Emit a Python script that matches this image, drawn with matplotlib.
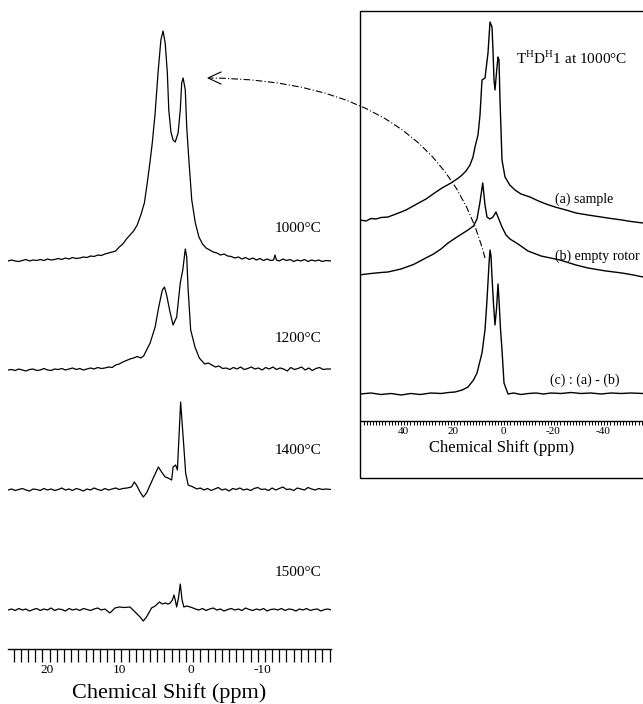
import matplotlib
matplotlib.use('Agg')
import matplotlib.pyplot as plt
import matplotlib.transforms as mtransforms
from matplotlib.ticker import MultipleLocator, FixedLocator
from matplotlib.patches import Rectangle, PathPatch
from matplotlib.path import Path
from matplotlib.lines import Line2D

plt.rcParams['font.family'] = ['Liberation Serif', 'DejaVu Serif']
plt.rcParams['mathtext.fontset'] = 'custom'
plt.rcParams['mathtext.rm'] = 'Liberation Serif'
plt.rcParams['axes.unicode_minus'] = False

# ---------------- data: left panel (ppm, intensity) ----------------
temps = ['1000°C', '1200°C', '1400°C', '1500°C']
left_ticks = [20, 10, 0, -10]

ppm_1000 = [24.8, 24.3, 23.8, 23.3, 22.8, 22.3, 21.8, 21.3, 20.8, 20.3,
            19.8, 19.3, 18.8, 18.3, 17.8, 17.3, 16.8, 16.3, 15.8, 15.3,
            14.8, 14.3, 13.8, 13.3, 12.8, 12.3, 11.8, 11.3, 10.8, 10.3,
            9.8, 9.3, 8.8, 8.3, 7.8, 7.3, 6.8, 6.3, 5.8,
            5.4, 5.0, 4.7, 4.3, 3.9, 3.5, 3.2, 2.9, 2.6, 2.4, 2.1, 1.8, 1.5,
            1.1, 0.8, 0.6, 0.4, 0.1, -0.1, -0.4, -0.8,
            -1.3, -1.8, -2.3, -2.8, -3.3, -3.8, -4.3, -4.8, -5.3, -5.8, -6.3,
            -6.8, -7.3, -7.8, -8.3, -8.8, -9.3, -9.8, -10.3, -10.8, -11.3, -11.8,
            -12.2, -12.4, -12.6, -13.0,
            -13.5, -14.0, -14.5, -15.0, -15.5, -16.0, -16.5, -17.0, -17.5,
            -18.0, -18.5, -19.0, -19.5, -20.2]
int_1000 = [0, 1, 0, -0.5, 0.5, 1.5, 0, 1, 0.5, 1.5,
            0.5, 2, 1, 1.5, 2.5, 1.5, 3, 2, 3.5, 2.5,
            3, 4, 3.5, 5, 4.5, 6, 5.5, 7, 8, 9,
            10, 14, 17, 22, 26, 30, 36, 46, 58,
            78, 100, 118, 148, 188, 221, 230, 218, 188, 151, 129, 121, 119,
            128, 151, 178, 183, 171, 134, 101, 61,
            38, 24, 17, 13, 11, 9, 8, 6, 7, 5, 4.5,
            3, 4, 2, 3.5, 1.5, 3, 1, 2.5, 0.5, 2, 0.5,
            1, 6, 1, 0,
            2, 0.5, 1.5, -0.5, 1, 0, 1.5, -0.5, 1,
            0, 1, -0.5, 0.5, 0]

ppm_1200 = [24.8, 24.3, 23.8, 23.3, 22.8, 22.3, 21.8, 21.3, 20.8, 20.3,
            19.8, 19.3, 18.8, 18.3, 17.8, 17.3, 16.8, 16.3, 15.8, 15.3,
            14.8, 14.3, 13.8, 13.3, 12.8, 12.3, 11.8, 11.3,
            10.8, 10.3, 9.8, 9.3, 8.8, 8.3, 7.8, 7.3, 6.8, 6.3,
            5.9, 5.7, 5.0, 4.3, 3.8, 3.3, 3.0, 2.7, 2.2, 1.8,
            1.3, 0.8, 0.45, 0.1, -0.1, -0.3, -0.65, -1.25, -1.85, -2.6,
            -3.1, -3.6, -4.1, -4.6, -5.1,
            -5.6, -6.1, -6.6, -7.1, -7.6, -8.1, -8.6, -9.1, -9.6, -10.1,
            -10.6, -11.1, -11.6, -12.1, -12.6, -13.1, -13.6, -14.1, -14.6, -15.1,
            -15.6, -16.1, -16.6, -17.1, -17.6, -18.1, -18.6, -19.1, -19.6, -20.2]
int_1200 = [0, 0.5, -0.5, 1, 0, -1, 0.5, 1, -0.5, 0,
            1.5, 0, -0.5, 1, 0.5, 1.5, 0, 1, 2, 0.5,
            1.5, 0, 1, 2, 1, 2.5, 1.5, 2,
            3, 2.5, 5, 6, 8, 9.5, 11, 12, 13.5, 12,
            14, 17, 27, 43, 63, 80, 83, 75, 57, 45,
            53, 87, 100, 121, 113, 80, 40, 23, 12, 6,
            7, 5, 3, 4, 1.5,
            2, 0.5, 2.5, 1, 3, 0.5, 1.5, 3, 1, 2,
            0, 2.5, 1, 3, 0.5, 2, 1, -1, 2.5, 0.5,
            1.5, 3, 0, 2, -0.5, 1.5, 2.5, 0.5, 1, 1]

ppm_1400 = [24.8, 24.3, 23.8, 23.3, 22.8, 22.3, 21.8, 21.3, 20.8, 20.3,
            19.8, 19.3, 18.8, 18.3, 17.8, 17.3, 16.8, 16.3, 15.8, 15.3,
            14.8, 14.3, 13.8, 13.3, 12.8, 12.3, 11.8, 11.3, 10.8, 10.3,
            9.8, 9.3, 8.8,
            8.2, 7.6, 7.2, 6.9, 6.4, 5.95, 5.5, 5.0, 4.5, 3.85, 3.4, 2.9,
            2.5, 2.0, 1.8, 1.45, 1.2, 1.0, 0.75, 0.5, 0.3, 0.05, -0.3, -1.0,
            -1.5, -2.0, -2.5, -3.0, -3.5, -4.0, -4.5, -5.0, -5.5, -6.0,
            -6.5, -7.0, -7.5, -8.0, -8.5, -9.0, -9.5, -10.0, -10.5, -11.0,
            -11.5, -12.0, -12.5, -13.0, -13.5, -14.0, -14.5, -15.0, -15.5, -16.0,
            -16.5, -17.0, -17.5, -18.0, -18.5, -19.0, -19.5, -20.2]
int_1400 = [0, 1, -0.5, 0.5, 1.5, 0, -1, 1, 0.5, -0.5,
            1.5, 0, 1, -0.5, 0.5, 2, 0, 1, -0.5, 1.5,
            0.5, -1, 1, 0, 2, 0.5, -0.5, 1.5, 0, 1,
            2, 0.5, 1.5,
            2, 3, 8, 5, -2, -7, -3, 5, 13, 23, 18, 13,
            12, 10, 23, 25, 20, 50, 88, 63, 43, 17, 5, 3,
            1, 2, 0, 1.5, -0.5, 1, 2.5, 0, 1, -1,
            1.5, 0.5, 2, 0, 1, -0.5, 1.5, 2.5, 0.5, 1,
            -0.5, 2, 0, 1.5, 3, 0.5, 1, -0.5, 2, 1,
            0, 2.5, 1, 0, 1.5, 0.5, 1, 0.5]

ppm_1500 = [24.8, 24.3, 23.8, 23.3, 22.8, 22.3, 21.8, 21.3, 20.8, 20.3,
            19.8, 19.3, 18.8, 18.3, 17.8, 17.3, 16.8, 16.3, 15.8, 15.3,
            14.8, 14.3, 13.8, 13.3, 12.8, 12.3, 11.8, 11.3,
            10.6, 9.9, 9.3, 8.6, 7.8, 7.1, 6.4, 5.95, 5.5, 4.8,
            4.3, 3.7, 3.3, 2.9, 2.5, 2.2, 1.9, 1.67, 1.5, 1.3,
            1.05, 0.8, 0.55, 0.3, -0.1, -0.8,
            -1.3, -1.8, -2.3, -2.8, -3.3, -3.8, -4.3, -4.8, -5.3, -5.8,
            -6.3, -6.8, -7.3, -7.8, -8.3, -8.8, -9.3, -9.8, -10.3, -10.8,
            -11.3, -11.8, -12.3, -12.8, -13.3, -13.8, -14.3, -14.8, -15.3, -15.8,
            -16.3, -16.8, -17.3, -17.8, -18.3, -18.8, -19.3, -19.8, -20.2]
int_1500 = [0, 1, -0.5, 1.5, 0, 1, -1, 0.5, 1.5, -0.5,
            1, 0, 2, -0.5, 1, 0.5, -1, 1.5, 0, 1,
            -0.5, 1.5, 0.5, -0.5, 1, 2, 0, 1,
            -3, 2, 3, 2.5, 3, -2, -7, -11, -7, 2,
            4, 8, 6, 7, 6, 7, 10, 15, 10, 3,
            12, 26, 10, 3, 4, 2.5,
            1, 0, 1.5, -0.5, 1, 2, 0, 1, -1, 0.5,
            1.5, 0, 1, -0.5, 2, 0.5, -0.5, 1, 0, 1.5,
            -1, 0.5, 1, 0, 1.5, -0.5, 1, 0.5, -1, 1,
            0, 1.5, -0.5, 0.5, 1, -1, 0.5, 1, 0]

# ---------------- data: right panel ----------------
right_ticks = [40, 20, 0, -20, -40]

ppm_a = [56.4, 54.0, 52.0, 50.0, 48.0, 45.2, 42.0, 38.0, 34.4, 30.0, 26.0,
         23.6, 20.0, 17.0, 15.6, 14.0, 12.4, 11.2, 10.4, 9.2, 8.4, 7.6, 6.4,
         5.2, 4.4, 3.6, 3.2, 2.8, 2.4, 1.6, 1.2, 0.8, 0.4, 0.0, -0.4, -1.6,
         -3.5, -5.6, -8.0, -11.6, -15.0, -18.0, -21.6, -26.0, -30.0, -34.8,
         -40.0, -44.0, -48.4, -52.0, -56.8]
int_a = [5, 4, 6.5, 6, 7.5, 8, 11, 15, 20, 26, 33,
         37, 42, 47, 50, 54, 60, 68, 78, 90, 110, 145, 147,
         172, 203, 198, 175, 145, 135, 158, 168, 165, 125, 95, 65, 48,
         40, 35, 31, 28, 24, 21, 18, 15, 12, 10,
         8, 6.5, 5, 3.5, 2]

ppm_b = [57.0, 52.0, 48.0, 45.2, 40.0, 35.0, 31.6, 27.0, 24.0, 21.2, 17.0,
         13.2, 11.0, 10.4, 9.6, 8.4, 7.3, 6.4, 5.6, 4.4, 3.2, 2.0, 1.2, 0.4,
         -0.4, -2.0, -3.6, -6.8, -10.8, -16.0, -23.6, -30.0, -34.8, -42.0,
         -48.4, -53.0, -56.8]
int_b = [2, 3.5, 4.5, 5, 8, 12.5, 17, 23, 28, 34, 41,
         47, 51, 54, 58, 75, 94, 72, 60, 58, 60, 65, 60, 55,
         50, 42, 38, 33, 26, 21, 17, 12, 9, 6,
         4, 2, 0]

ppm_c = [56.4, 52.0, 48.0, 44.0, 40.0, 36.0, 32.4, 28.0, 24.0, 21.0, 18.4,
         15.5, 13.2, 11.0, 9.6, 7.6, 6.4, 5.6, 4.8, 4.4, 4.0, 3.6, 3.0, 2.4,
         1.8, 1.2, 0.8, 0.2, -0.4, -1.2, -2.8, -5.0, -8.0, -11.0, -14.0, -17.0,
         -20.0, -24.0, -28.0, -32.0, -36.0, -40.0, -44.0, -48.0, -52.0, -56.8]
int_c = [0, 1, -0.5, 0.5, -1, 0.5, -0.5, 1, 0.5, 1.5, 2,
         4, 7, 14, 21, 41, 64, 94, 130, 144, 138, 117, 90, 69,
         85, 110, 94, 65, 44, 11, 0, 1, -0.5, 0.5, 1, 0,
         1, 0.5, 1.5, 0.5, 1, 0, 1, 0.5, 1, 0.5]

right_labels = ['(a) sample', '(b) empty rotor', '(c) : (a) - (b)']

# ---------------- layout ----------------
W, H = 643, 704
fig = plt.figure(figsize=(W / 100, H / 100), dpi=100)


def fx(x):
    return x / W


def fy(y):
    return 1 - y / H


# left panel
ax = fig.add_axes([fx(8), fy(649), 323 / W, (649 - 20) / H])
ax.set_xlim(24.8, -20.2)
ax.set_ylim(0, 629)
left_offsets = [388, 279, 159, 39]
left_series = [(ppm_1000, int_1000), (ppm_1200, int_1200),
               (ppm_1400, int_1400), (ppm_1500, int_1500)]
for (p, v), off in zip(left_series, left_offsets):
    ax.plot(p, [off + t for t in v], color='black', lw=0.9)
for sp in ['left', 'right', 'top']:
    ax.spines[sp].set_visible(False)
ax.spines['bottom'].set_linewidth(1.0)
ax.set_yticks([])
ax.xaxis.set_major_locator(FixedLocator(left_ticks))
ax.xaxis.set_minor_locator(MultipleLocator(1))
ax.tick_params(axis='x', which='both', direction='out', length=9.5,
               width=0.9, labelsize=9.5, pad=1)
ax.set_xlabel('Chemical Shift (ppm)', fontsize=16, labelpad=5.5)
shift_l = mtransforms.ScaledTranslation(5 / 100, 0, fig.dpi_scale_trans)
for lbl in ax.xaxis.get_majorticklabels():
    lbl.set_transform(lbl.get_transform() + shift_l)

temp_y = [228, 338, 450, 573]
for t, yy in zip(temps, temp_y):
    fig.text(fx(275), fy(yy), t, fontsize=11, va='center', ha='left')

# right panel frame
fig.add_artist(Rectangle((fx(360), fy(478)), fx(300), (478 - 11) / H,
                         transform=fig.transFigure, fill=False,
                         lw=1.0, color='black'))

rax = fig.add_axes([fx(361), fy(421), 282 / W, 410 / H])
rax.set_xlim(56.0, -56.8)
rax.set_ylim(0, 410)
right_offsets = [196, 144, 27]
right_series = [(ppm_a, int_a), (ppm_b, int_b), (ppm_c, int_c)]
for (p, v), off in zip(right_series, right_offsets):
    rax.plot(p, [off + t for t in v], color='black', lw=1.0)
rax.patch.set_visible(False)
for sp in ['left', 'right', 'top']:
    rax.spines[sp].set_visible(False)
rax.spines['bottom'].set_linewidth(1.0)
rax.set_yticks([])
rax.xaxis.set_major_locator(FixedLocator(right_ticks))
rax.xaxis.set_minor_locator(MultipleLocator(1.25))
rax.tick_params(axis='x', which='both', direction='out', length=3,
                width=0.7, labelsize=8, pad=1.5)
rax.set_xlabel('Chemical Shift (ppm)', fontsize=12, labelpad=3)
shift_r = mtransforms.ScaledTranslation(2 / 100, 0, fig.dpi_scale_trans)
for lbl in rax.xaxis.get_majorticklabels():
    lbl.set_transform(lbl.get_transform() + shift_r)

label_pos = [(555, 199), (555, 256), (550, 380)]
for t, (xx, yy) in zip(right_labels, label_pos):
    fig.text(fx(xx), fy(yy), t, fontsize=10, va='center', ha='left')
fig.text(fx(516), fy(58), r'T$^{\mathrm{H}}$D$^{\mathrm{H}}$1 at 1000°C',
         fontsize=11, va='center', ha='left')

# dash-dot arrow from right spectrum (c) to left 1000°C spectrum
P0, C, P2 = (485, 258), (440, 80), (210, 78)
path = Path([(fx(P0[0]), fy(P0[1])), (fx(C[0]), fy(C[1])), (fx(P2[0]), fy(P2[1]))],
            [Path.MOVETO, Path.CURVE3, Path.CURVE3])
fig.add_artist(PathPatch(path, transform=fig.transFigure, fill=False,
                         lw=0.8, ls=(0, (6, 2, 1, 2)), color='black'))
fig.add_artist(Line2D([fx(221), fx(208), fx(221)], [fy(72), fy(78), fy(84)],
                      transform=fig.transFigure, lw=0.8, color='black'))

fig.savefig('out.png', dpi=100)
